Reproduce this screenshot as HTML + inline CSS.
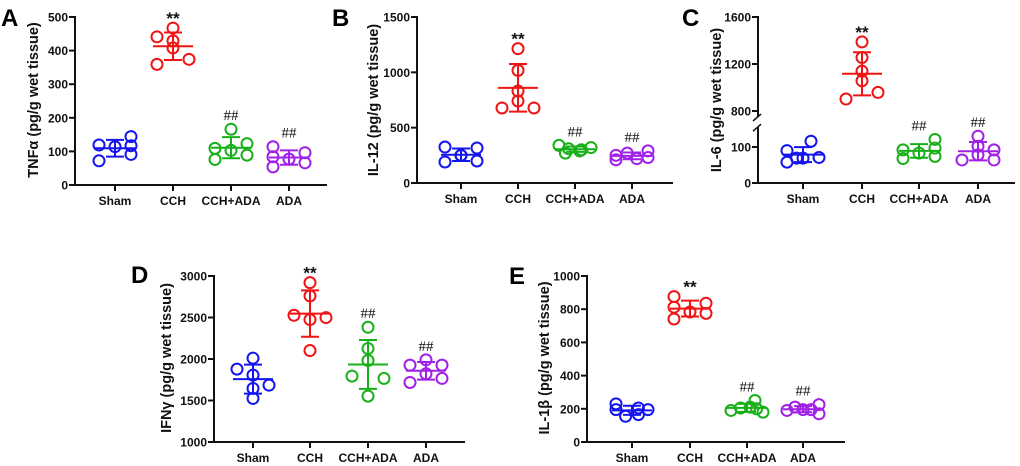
<!DOCTYPE html>
<html><head><meta charset="utf-8"><style>
html,body{margin:0;padding:0;background:#fff;}
svg{display:block;font-family:"Liberation Sans",Arial,sans-serif;}
.tk{font-size:12px;font-weight:bold;fill:#111;}
.cat{font-size:12px;font-weight:bold;fill:#111;}
.ttl{font-size:14.5px;font-weight:bold;fill:#111;}
.let{font-size:24px;font-weight:bold;fill:#000;}
.ast{font-size:17px;font-weight:bold;fill:#111;}
.hash{font-family:"Liberation Serif",serif;font-size:15px;fill:#111;}
</style></head><body>
<svg id="fig" width="1020" height="466" viewBox="0 0 1020 466" xmlns="http://www.w3.org/2000/svg"></svg>
<script>
// ---- data ----
const categories = ["Sham","CCH","CCH+ADA","ADA"];
const tnfSham=[72,119,114,144,117,91], tnfCCH=[441,359,467,429,408,374], tnfCA=[109,76,166,103,123,89], tnfADA=[114,84,54,77,96,66];
const il12Sham=[325,190,250,316,199,250], il12CCH=[1214,1018,831,741,678,678], il12CA=[340,310,290,270,320,300], il12ADA=[250,210,270,220,290,230];
const il6Sham=[90,58,69,116,71,69], il6CCH=[1388,1255,1139,1057,902,958], il6CA=[92,68,83,121,97,74], il6ADA=[64,130,102,78,92,64];
const ifnSham=[2010,1878,1806,1685,1645,1525], ifnCCH=[2920,2760,2527,2475,2499,2102], ifnCA=[2383,2126,1982,1794,1766,1553], ifnADA=[1926,1990,1926,1822,1717,1766];
const il1Sham=[230,195,155,165,205,195], il1CCH=[876,812,741,783,836,775], il1CA=[190,205,210,250,200,180], il1ADA=[190,210,195,195,225,170];
const ticksA=[0,100,200,300,400,500], ticksB=[0,500,1000,1500], ticksC=[0,100,800,1200,1600], ticksD=[1000,1500,2000,2500,3000], ticksE=[0,200,400,600,800,1000];
const marks=["","**","##","##"];
// ---- layout (horizontal jitter of dots, not data) ----
const colors=["#1414f0","#f01414","#18b018","#a020e8"];
const jitA=[[-1,-1,0,1,1,1],[-1,-1,0,0,0,1],[-1,-1,0,0,1,1],[-1,-1,-1,0,1,1]];
const jitB=[[-1,-1,0,1,1,0],[0,0,0,0,-1,1],[-1,-0.4,0.3,-0.6,1,0.4],[-1,-1,-0.3,0.3,1,1]];
const jitC=[[-1,-1,0,0.5,1,-0.4],[0,0,0,0,-1,1],[-1,-1,0,1,1,1],[-1,0,0,0,1,1]];
const jitD=[[0,-1,0,1,0,0],[0,0,-1,0,1,0],[0,0,0,-1,1,0],[-1,0,1,0,-1,1]];
const jitE=[[-1,-1,-0.4,0.4,0.4,1],[-1,-1,-1,0,1,1],[-1,-0.4,0.2,0.5,0.6,1],[-1,-0.5,0,0.5,1,1]];
const NS="http://www.w3.org/2000/svg";
const svg=document.getElementById('fig');
function mk(tag,attrs,parent){const e=document.createElementNS(NS,tag);for(const k in attrs)e.setAttribute(k,attrs[k]);(parent||svg).appendChild(e);return e;}
function mean(a){return a.reduce((s,v)=>s+v,0)/a.length;}
function sd(a){const m=mean(a);return Math.sqrt(a.reduce((s,v)=>s+(v-m)*(v-m),0)/(a.length-1));}

function panel(p){
  const g=mk('g',{});
  
  
  const lt=mk('text',{x:p.letter[0],y:p.letter[1],class:'let'},g);lt.textContent=p.L;
  
  
  const ax=mk('g',{},g);
  
  
  if(p.broken){
    mk('line',{x1:p.ax,y1:p.y(1600)-1,x2:p.ax,y2:p.y(800)+6,stroke:'#111','stroke-width':2},ax);
    mk('line',{x1:p.ax,y1:p.y(155),x2:p.ax,y2:p.y(0)+1,stroke:'#111','stroke-width':2},ax);
    mk('line',{x1:p.ax-5,y1:p.y(800)+10,x2:p.ax+3,y2:p.y(800)+3,stroke:'#111','stroke-width':1.5},ax);
    mk('line',{x1:p.ax-5,y1:p.y(155)+4,x2:p.ax+3,y2:p.y(155)-3,stroke:'#111','stroke-width':1.5},ax);
  } else {
    mk('line',{x1:p.ax,y1:p.y(p.ticks[p.ticks.length-1])-1,x2:p.ax,y2:p.y0+1,stroke:'#111','stroke-width':2},ax);
  }
  p.ticks.forEach(t=>{
    const yy=p.y(t);
    mk('line',{x1:p.ax-6,y1:yy,x2:p.ax,y2:yy,stroke:'#111','stroke-width':2},ax);
    const tx=mk('text',{x:p.ax-7,y:yy+4.5,class:'tk','text-anchor':'end'},ax);tx.textContent=t;
    
    
  });
  const tt=mk('text',{x:0,y:0,class:'ttl','text-anchor':'middle',transform:`translate(${p.tx},${p.tyc}) rotate(-90)`},g);
  tt.textContent=p.title;
  
  
  const xa=mk('g',{},g);
  
  
  mk('line',{x1:p.ax-1,y1:p.y0,x2:p.xend,y2:p.y0,stroke:'#111','stroke-width':2},xa);
  categories.forEach((c,i)=>{
    const x=p.gx[i];
    mk('line',{x1:x,y1:p.y0,x2:x,y2:p.y0+6,stroke:'#111','stroke-width':2},xa);
    const ct=mk('text',{x:x,y:p.y0+20,class:'cat','text-anchor':'middle'},xa);ct.textContent=c;
    
    
  });
  p.data.forEach((arr,i)=>{
    const sg=mk('g',{},g);
    
    
    const x=p.gx[i],col=colors[i],m=mean(arr),s=sd(arr);
    const ym=p.y(m),yt=p.y(m+s),yb=p.y(m-s);
    arr.forEach((v,k)=>{
      const c=mk('circle',{cx:x+p.jit[i][k]*16,cy:p.y(v),r:5.5,fill:'none',stroke:col,'stroke-width':2},sg);
      
      
    });
    mk('line',{x1:x-20,y1:ym,x2:x+20,y2:ym,stroke:col,'stroke-width':2},sg);
    mk('line',{x1:x,y1:yt,x2:x,y2:yb,stroke:col,'stroke-width':2},sg);
    mk('line',{x1:x-9,y1:yt,x2:x+9,y2:yt,stroke:col,'stroke-width':2},sg);
    mk('line',{x1:x-9,y1:yb,x2:x+9,y2:yb,stroke:col,'stroke-width':2},sg);
    if(marks[i]){
      const top=Math.min(p.y(Math.max(...arr)),yt);
      const a=mk('text',{x:x,y:i==1?top-4:top-9,class:i==1?'ast':'hash','text-anchor':'middle'},sg);
      a.textContent=marks[i];
      
      
    }
  });
}
function lin(v0,y0,v1,y1){return v=>y0+(v-v0)*(y1-y0)/(v1-v0);}

panel({name:'panel-a-tnf',L:'A',letter:[1,26],ax:75,y0:185,y:lin(0,185,500,17),ticks:ticksA,gx:[115,173,231,289],xend:327,jit:jitA,
  title:'TNFα (pg/g wet tissue)',tx:38,tyc:100,data:[tnfSham,tnfCCH,tnfCA,tnfADA]});
panel({name:'panel-b-il12',L:'B',letter:[332,26],ax:417,y0:183,y:lin(0,183,1500,17),ticks:ticksB,gx:[461,518,575,632],xend:673,jit:jitB,
  title:'IL-12 (pg/g wet tissue)',tx:378,tyc:100,data:[il12Sham,il12CCH,il12CA,il12ADA]});
const upC=lin(800,111,1600,17),loC=lin(0,183,100,147);
panel({name:'panel-c-il6',L:'C',letter:[682,26],ax:758,y0:183,broken:true,y:v=>v>=500?upC(v):loC(v),ticks:ticksC,gx:[803,862,919,978],xend:1015,jit:jitC,
  title:'IL-6 (pg/g wet tissue)',tx:721,tyc:100,data:[il6Sham,il6CCH,il6CA,il6ADA]});
panel({name:'panel-d-ifn',L:'D',letter:[131,283],ax:214,y0:442,y:lin(1000,442,3000,276),ticks:ticksD,gx:[253,310,368,426],xend:465,jit:jitD,
  title:'IFNγ (pg/g wet tissue)',tx:171,tyc:358,data:[ifnSham,ifnCCH,ifnCA,ifnADA]});
panel({name:'panel-e-il1b',L:'E',letter:[509,284],ax:587,y0:442,y:lin(0,442,1000,276),ticks:ticksE,gx:[632,690,747,803],xend:845,jit:jitE,
  title:'IL-1β (pg/g wet tissue)',tx:549,tyc:358,data:[il1Sham,il1CCH,il1CA,il1ADA]});
</script>
</body></html>
